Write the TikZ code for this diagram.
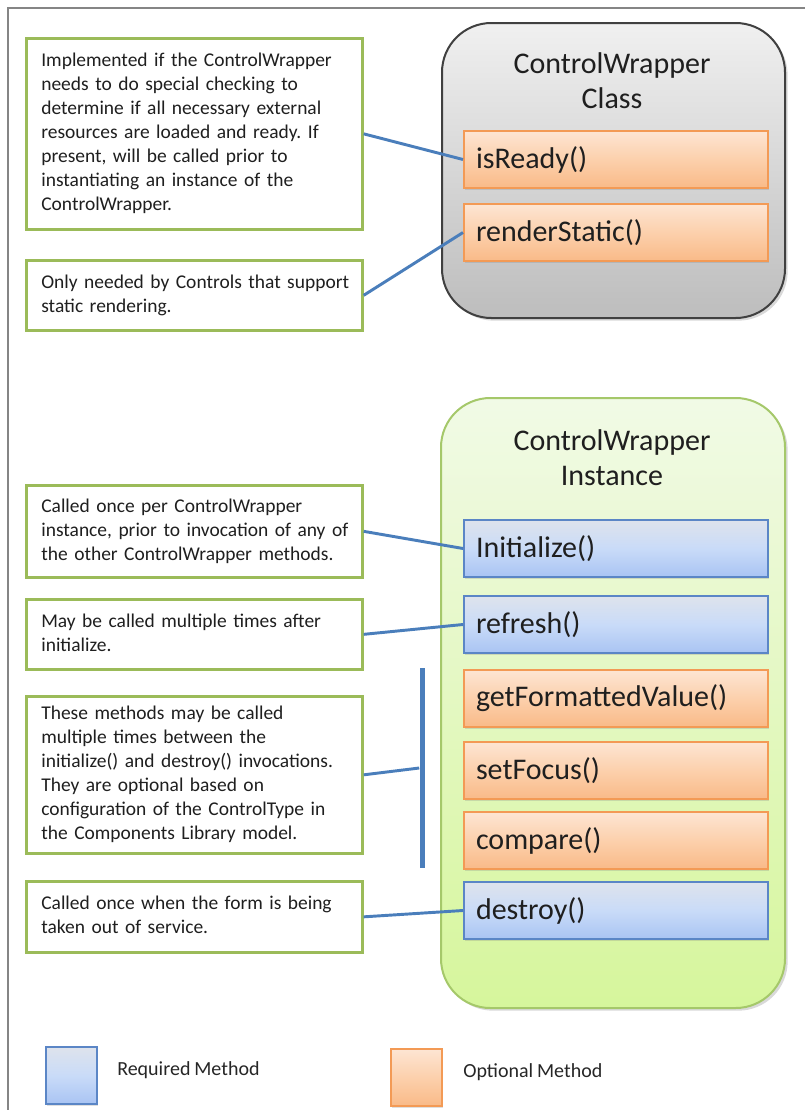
\documentclass[tikz,border=0pt]{standalone}
\usepackage{fontspec}
\setmainfont{Carlito}[WordSpace=0.85]
\usetikzlibrary{shadows}
\frenchspacing
\definecolor{notegreen}{HTML}{9BBB59}
\definecolor{notetext}{HTML}{1F1F1F}
\definecolor{framegray}{HTML}{858585}
\definecolor{connblue}{HTML}{4A7EBB}
\definecolor{reqborder}{HTML}{5B86C6}
\definecolor{reqtop}{HTML}{DEE3EC}
\definecolor{reqmid}{HTML}{C9DBF8}
\definecolor{reqbot}{HTML}{A9C4F3}
\definecolor{optborder}{HTML}{F39A55}
\definecolor{opttop}{HTML}{FDE5D3}
\definecolor{optmid}{HTML}{FCD0AC}
\definecolor{optbot}{HTML}{F9BA88}
\definecolor{clsborder}{HTML}{404040}
\definecolor{clstop}{HTML}{F0F0F0}
\definecolor{clsbot}{HTML}{BDBDBD}
\definecolor{insborder}{HTML}{A5C86A}
\definecolor{instop}{HTML}{F1FAE6}
\definecolor{insbot}{HTML}{D6F69C}
\begin{document}
\begin{tikzpicture}[x=0.75pt,y=-0.75pt,
  note/.style={draw=notegreen, line width=2pt, fill=white, anchor=north west,
    minimum width=252pt, text width=229.5pt, inner xsep=11.25pt, inner ysep=0pt,
    align=left, font=\fontsize{14.6}{18}\selectfont, text=notetext},
  method/.style={anchor=north west, minimum width=228pt, minimum height=42.75pt,
    text width=210pt, inner xsep=9pt, inner ysep=0pt, align=left,
    font=\fontsize{22.5}{27}\selectfont, text=notetext, line width=1.5pt,
    drop shadow={opacity=0.25, shadow xshift=1pt, shadow yshift=-1.5pt}},
  reqfill/.style={draw=reqborder, top color=reqtop, bottom color=reqbot, middle color=reqmid},
  optfill/.style={draw=optborder, top color=opttop, bottom color=optbot, middle color=optmid},
  req/.style={method, reqfill},
  opt/.style={method, optfill},
  container/.style={anchor=north west, rounded corners=37pt, line width=1.5pt,
    drop shadow={opacity=0.3, shadow xshift=2pt, shadow yshift=-2pt}},
  title/.style={align=center, font=\fontsize{22.5}{26.25}\selectfont, text=notetext},
  legbox/.style={anchor=north west, minimum width=38.25pt, minimum height=42.75pt,
    inner sep=0pt, line width=1.5pt,
    drop shadow={opacity=0.25, shadow xshift=1pt, shadow yshift=-1.5pt}},
  legtext/.style={anchor=west, inner sep=0pt, font=\fontsize{15}{18}\selectfont, text=black!85},
  conn/.style={draw=connblue, line width=2.2pt},
  vbarstyle/.style={fill=connblue, draw=none, minimum width=3.75pt, minimum height=150pt, inner sep=0pt}
]
\useasboundingbox (0,0) rectangle (805,1110);
% frame
\draw[framegray, line width=1.5pt] (8,1110) -- (8,8) -- (805,8);

% containers
\node[container, draw=clsborder, top color=clstop, bottom color=clsbot,
  minimum width=257.25pt, minimum height=221.25pt] (cls) at (441,22) {};
\node[title] (clstitle) at (612,80.5) {ControlWrapper\\Class};

\node[container, draw=insborder, top color=instop, bottom color=insbot,
  minimum width=258pt, minimum height=457.5pt] (ins) at (440,397) {};
\node[title] (institle) at (612,457.5) {ControlWrapper\\Instance};

% methods
\node[opt] (isready) at (463,130) {isReady()};
\node[opt] (render) at (463,203) {renderStatic()};
\node[req] (init) at (463,519) {Initialize()};
\node[req] (refresh) at (463,595) {refresh()};
\node[opt] (getfv) at (463,669) {getFormattedValue()};
\node[opt] (setfocus) at (463,741) {setFocus()};
\node[opt] (compare) at (463,811) {compare()};
\node[req] (destroy) at (463,881) {destroy()};

% vertical bar
\node[vbarstyle] (vbar) at (422,768) {};

% notes
\node[note, minimum height=143.25pt] (n1) at (25,37) {\begin{tabular}{@{}l@{}}Implemented if the ControlWrapper\\needs to do special checking to\\determine if all necessary external\\resources are loaded and ready. If\\present, will be called prior to\\instantiating an instance of the\\ControlWrapper.\end{tabular}};
\node[note, minimum height=52.5pt] (n2) at (25,259) {\begin{tabular}{@{}l@{}}Only needed by Controls that support\\static rendering.\end{tabular}};
\node[note, minimum height=69pt] (n3) at (25,484) {\begin{tabular}{@{}l@{}}Called once per ControlWrapper\\instance, prior to invocation of any of\\the other ControlWrapper methods.\end{tabular}};
\node[note, minimum height=52.5pt] (n4) at (25,598) {\begin{tabular}{@{}l@{}}May be called multiple times after\\initialize.\end{tabular}};
\node[note, minimum height=117.75pt] (n5) at (25,695) {\begin{tabular}{@{}l@{}}These methods may be called\\multiple times between the\\initialize() and destroy() invocations.\\They are optional based on\\configuration of the ControlType in\\the Components Library model.\end{tabular}};
\node[note, minimum height=53.25pt] (n6) at (25,880) {\begin{tabular}{@{}l@{}}Called once when the form is being\\taken out of service.\end{tabular}};

% connectors
\draw[conn] (n1.east) -- (isready.west);
\draw[conn] (n2.east) -- (render.west);
\draw[conn] (n3.east) -- (init.west);
\draw[conn] (n4.east) -- (refresh.west);
\draw[conn] (n5.east) -- (vbar.west);
\draw[conn] (n6.east) -- (destroy.west);

% legend
\node[legbox, reqfill] (legreq) at (45,1046) {};
\node[legtext] (legreqt) at (117,1070) {Required Method};
\node[legbox, optfill] (legopt) at (390,1048) {};
\node[legtext] (legoptt) at (463,1072) {Optional Method};
\end{tikzpicture}
\end{document}
